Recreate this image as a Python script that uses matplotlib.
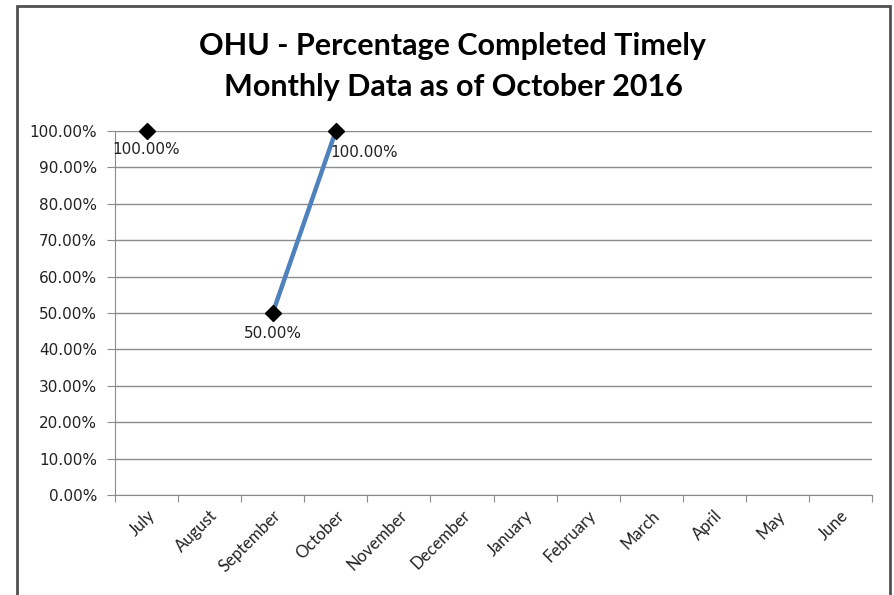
import matplotlib
matplotlib.use("Agg")
from matplotlib import pyplot as plt
from matplotlib.patches import Rectangle
import numpy as np

months = ["July", "August", "September", "October", "November", "December",
          "January", "February", "March", "April", "May", "June"]
pct_timely = [1.0, np.nan, 0.5, 1.0, np.nan, np.nan,
              np.nan, np.nan, np.nan, np.nan, np.nan, np.nan]
title = "OHU - Percentage Completed Timely\nMonthly Data as of October 2016"

plt.rcParams["font.family"] = ["DejaVu Sans"]

W, H = 895, 595
fig = plt.figure(figsize=(W / 100, H / 100), dpi=100)
ax = fig.add_axes([115 / W, 1 - 495 / H, (872 - 115) / W, (495 - 131) / H])

# outer chart frame
fig.patches.append(Rectangle((17 / W, -0.05), (890 - 17) / W, 1 - 6 / H + 0.05,
                             transform=fig.transFigure, fill=False,
                             edgecolor="#505050", linewidth=2))

x = np.arange(len(months))
ax.plot(x, pct_timely, color="#4F81BD", linewidth=3.2, marker="D",
        markersize=8, markerfacecolor="black", markeredgecolor="black",
        zorder=3, clip_on=False)

# data labels
offsets = {0: (0, -8, "center"), 2: (0, -9, "center"), 3: (-4, -10, "left")}
for i, v in enumerate(pct_timely):
    if np.isnan(v):
        continue
    dx, dy, ha = offsets.get(i, (0, -8, "center"))
    ax.annotate(f"{v * 100:.2f}%", (x[i], v), xytext=(dx, dy),
                textcoords="offset points", ha=ha, va="top", fontsize=11,
                color="#222222", zorder=4)

ax.set_xlim(-0.5, len(months) - 0.5)
ax.set_ylim(0, 1.0)
ax.set_yticks(np.arange(0, 1.01, 0.1))
ax.set_yticklabels([f"{t * 100:.2f}%" for t in np.arange(0, 1.01, 0.1)],
                   fontsize=11, color="#222222")
ax.yaxis.grid(True, color="#8c8c8c", linewidth=1)
ax.set_axisbelow(True)

ax.set_xticks(np.arange(-0.5, len(months), 1.0))
ax.set_xticklabels([])
ax.set_xticks(x, minor=True)
ax.set_xticklabels(months, minor=True, rotation=45, ha="right",
                   rotation_mode="anchor", fontsize=12, family="Lato",
                   color="#222222")
ax.tick_params(axis="x", which="minor", length=0, pad=9)
ax.tick_params(axis="x", which="major", length=5, color="#8c8c8c")
ax.tick_params(axis="y", length=5.8, color="#8c8c8c", pad=7)

for s in ["top", "right"]:
    ax.spines[s].set_visible(False)
for s in ["left", "bottom"]:
    ax.spines[s].set_color("#8c8c8c")

fig.text(453 / W, 1 - 32 / H, title, ha="center", va="top", fontsize=22,
         fontweight="bold", family="Lato", linespacing=1.55)

fig.savefig("out.png", dpi=100)
